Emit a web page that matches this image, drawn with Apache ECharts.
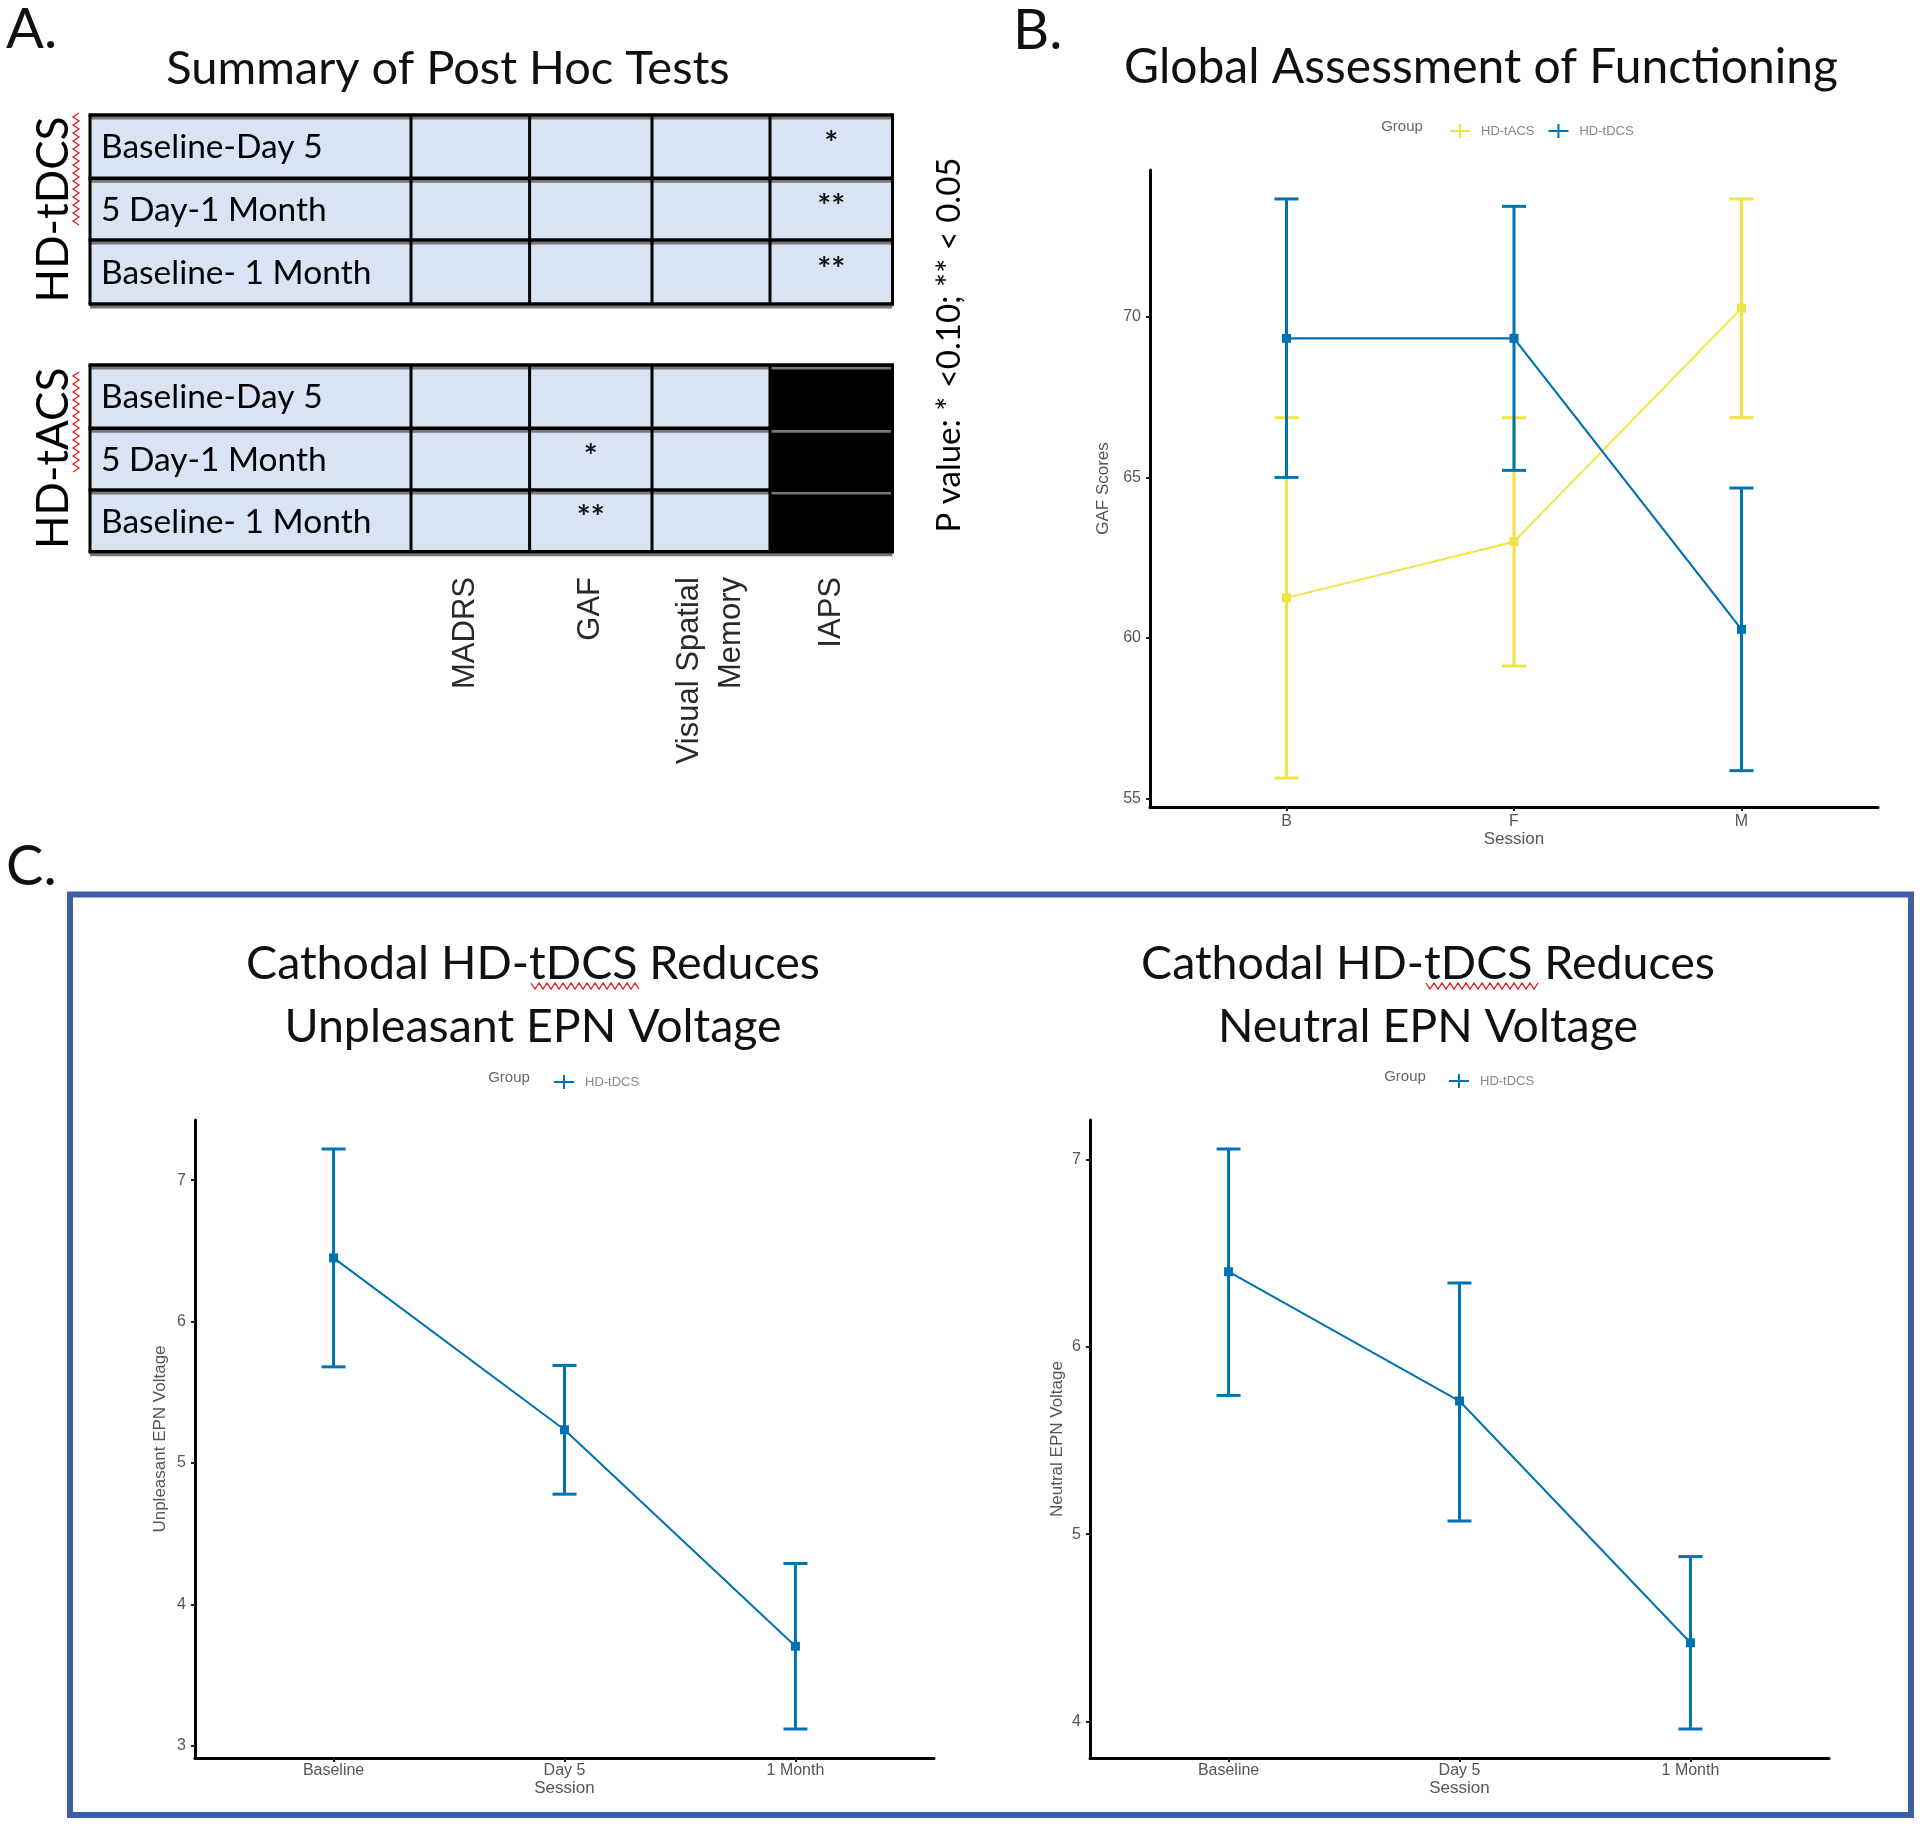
<!DOCTYPE html>
<html><head><meta charset="utf-8">
<script src="https://cdn.jsdelivr.net/npm/echarts@6/dist/echarts.min.js"></script>
<style>html,body{margin:0;padding:0;background:#fff}#c{width:1920px;height:1826px}</style>
</head><body><div id="c"></div>
<script>
// ---------- Panel A data ----------
const tableRowLabels = ['Baseline-Day 5', '5 Day-1 Month', 'Baseline- 1 Month'];
const tableColLabels = ['MADRS', 'GAF', 'Visual Spatial\nMemory', 'IAPS'];
// '' = no effect, '*' p<0.10, '**' p<0.05, null = not tested (black)
const tdcsSig = [['', '', '', '*'], ['', '', '', '**'], ['', '', '', '**']];
const tacsSig = [['', '', '', null], ['', '*', '', null], ['', '**', '', null]];
const groupLabels = ['HD-tDCS', 'HD-tACS'];
const pValueNote = 'P value: * <0.10; ** < 0.05';

// ---------- Panel B data (GAF) ----------
const gafSessions = ['B', 'F', 'M'];
const gafTicks = [55, 60, 65, 70];
const tacsGafMean = [61.25, 63.0, 70.27];
const tacsGafLow = [55.64, 59.13, 66.86];
const tacsGafHigh = [66.86, 66.86, 73.67];
const tdcsGafMean = [69.33, 69.33, 60.27];
const tdcsGafLow = [65.0, 65.22, 55.87];
const tdcsGafHigh = [73.67, 73.44, 64.67];

// ---------- Panel C data (EPN) ----------
const epnSessions = ['Baseline', 'Day 5', '1 Month'];
const unpTicks = [3, 4, 5, 6, 7];
const unpMean = [6.45, 5.235, 3.705];
const unpLow = [5.68, 4.78, 3.12];
const unpHigh = [7.22, 5.69, 4.29];
const neuTicks = [4, 5, 6, 7];
const neuMean = [6.40, 5.71, 4.42];
const neuLow = [5.74, 5.07, 3.96];
const neuHigh = [7.055, 6.34, 4.88];

// ---------- styling ----------
const BLUE = '#0072B2', YEL = '#F0E442';
const FONT = 'Lato, "Open Sans", sans-serif';
const AXFONT = '"Liberation Sans", Arial, sans-serif';
const AXCOL = '#555';

function expand(lows, highs) {
  const lo = Math.min(...lows), hi = Math.max(...highs), p = (hi - lo) * 0.05;
  return [lo - p, hi + p];
}

const chart = echarts.init(document.getElementById('c'), null, {renderer: 'canvas', width: 1920, height: 1826});

function xAxisCfg(gi, cats, labelMargin, nameGap) {
  return {
    type: 'value', gridIndex: gi, min: 0.4, max: 3.6,
    name: 'Session', nameLocation: 'middle', nameGap: nameGap,
    nameTextStyle: {color: AXCOL, fontSize: 17, fontFamily: AXFONT},
    axisLine: {show: true, onZero: false, lineStyle: {color: '#000', width: 3}},
    axisTick: {show: true, customValues: [1, 2, 3], length: 4, lineStyle: {color: '#222', width: 2}},
    axisLabel: {customValues: [1, 2, 3], formatter: v => cats[Math.round(v) - 1], color: AXCOL,
      fontSize: 16, fontFamily: AXFONT, margin: labelMargin},
    splitLine: {show: false}
  };
}
function yAxisCfg(gi, ticks, range, name, nameGap) {
  return {
    type: 'value', gridIndex: gi, min: range[0], max: range[1],
    name: name, nameLocation: 'middle', nameGap: nameGap, nameRotate: 90,
    nameTextStyle: {color: AXCOL, fontSize: 17, fontFamily: AXFONT},
    axisLine: {show: true, onZero: false, lineStyle: {color: '#000', width: 3}},
    axisTick: {show: true, customValues: ticks, length: 4, lineStyle: {color: '#222', width: 2}},
    axisLabel: {customValues: ticks, formatter: v => String(Math.round(v)), color: AXCOL,
      fontSize: 16, fontFamily: AXFONT, margin: 9},
    splitLine: {show: false}
  };
}
function lineSeries(name, color, gi, means, w) {
  return {
    type: 'line', name: name, xAxisIndex: gi, yAxisIndex: gi,
    data: means.map((m, i) => [i + 1, m]),
    symbol: 'rect', symbolSize: 9, showSymbol: true,
    itemStyle: {color: color}, lineStyle: {color: color, width: w},
    animation: false, z: 3
  };
}
function errSeries(id, color, gi, lows, highs) {
  return {
    type: 'custom', name: id, xAxisIndex: gi, yAxisIndex: gi,
    data: lows.map((l, i) => [i + 1, l, highs[i]]),
    encode: {x: 0, y: [1, 2]}, animation: false, z: 3,
    renderItem: (params, api) => {
      const a = api.coord([api.value(0), api.value(1)]);
      const b = api.coord([api.value(0), api.value(2)]);
      const w = 12, st = {stroke: color, lineWidth: 3};
      return {type: 'group', children: [
        {type: 'line', shape: {x1: a[0], y1: a[1], x2: b[0], y2: b[1]}, style: st},
        {type: 'line', shape: {x1: a[0] - w, y1: a[1], x2: a[0] + w, y2: a[1]}, style: st},
        {type: 'line', shape: {x1: b[0] - w, y1: b[1], x2: b[0] + w, y2: b[1]}, style: st}
      ]};
    }
  };
}

// ---------- graphic (panel A, labels, frame) ----------
const G = [];
function txt(text, x, y, size, opts) {
  opts = opts || {};
  G.push({type: 'text', x: x, y: y, rotation: opts.rot || 0, z: 10,
    style: {text: text, fontSize: size, fontFamily: opts.font || FONT, fontWeight: opts.weight || 'normal',
      fill: opts.fill || '#111', align: opts.align || 'center', verticalAlign: opts.valign || 'middle',
      lineHeight: opts.lh || undefined}});
}
function squiggle(x1, y1, x2, y2, amp, step) {
  const pts = [];
  const len = Math.hypot(x2 - x1, y2 - y1), n = Math.round(len / step);
  const ux = (x2 - x1) / len, uy = (y2 - y1) / len;
  for (let i = 0; i <= n; i++) {
    const s = (i % 2 ? amp : -amp);
    pts.push([x1 + ux * step * i - uy * s, y1 + uy * step * i + ux * s]);
  }
  G.push({type: 'polyline', shape: {points: pts}, style: {stroke: '#E02020', lineWidth: 1.3, fill: null}, z: 10});
}

// panel letters and titles
txt('A.', 6, 30, 56, {align: 'left'});
txt('B.', 1013, 31, 56, {align: 'left'});
txt('C.', 6, 867, 56, {align: 'left'});
txt('Summary of Post Hoc Tests', 448, 69, 47);
txt('Global Assessment of Functioning', 1481, 68, 48);
txt('Cathodal HD-tDCS Reduces\nUnpleasant EPN Voltage', 533, 995, 46.5, {lh: 63});
txt('Cathodal HD-tDCS Reduces\nNeutral EPN Voltage', 1428, 995, 46.5, {lh: 63});
squiggle(531, 986, 640, 986, 3, 4);
squiggle(1426, 986, 1537, 986, 3, 4);

// tables
const colX = [90, 411, 529.6, 652, 770, 892.5];
const tableRowsY = [[115, 178.3, 240, 304], [365, 428.3, 490, 551.7]];
const sigSets = [tdcsSig, tacsSig];
tableRowsY.forEach((ry, t) => {
  const sig = sigSets[t];
  for (let r = 0; r < 3; r++) {
    for (let c = 0; c < 5; c++) {
      const black = c > 0 && sig[r][c - 1] === null;
      G.push({type: 'rect', shape: {x: colX[c], y: ry[r], width: colX[c + 1] - colX[c], height: ry[r + 1] - ry[r]},
        style: {fill: black ? '#000' : '#DAE3F3'}, z: 5});
      if (c > 0 && sig[r][c - 1]) {
        txt(sig[r][c - 1], (colX[c] + colX[c + 1]) / 2, (ry[r] + ry[r + 1]) / 2 - 2, 33, {weight: 'bold'});
      }
    }
    txt(tableRowLabels[r], 101, (ry[r] + ry[r + 1]) / 2 + 1, 33.5, {align: 'left', fill: '#000'});
  }
  ry.forEach(y => {
    G.push({type: 'line', shape: {x1: colX[0], y1: y + 3, x2: colX[5], y2: y + 3}, style: {stroke: '#777', lineWidth: 3}, z: 6});
    G.push({type: 'line', shape: {x1: colX[0] - 1.5, y1: y, x2: colX[5] + 1.5, y2: y}, style: {stroke: '#000', lineWidth: 3.5}, z: 7});
  });
  colX.forEach(x => {
    G.push({type: 'line', shape: {x1: x, y1: ry[0], x2: x, y2: ry[3]}, style: {stroke: '#000', lineWidth: 3}, z: 7});
  });
  const cy = (ry[0] + ry[3]) / 2;
  txt(groupLabels[t], 54, cy, 44, {rot: Math.PI / 2, fill: '#000'});
});
squiggle(76, 113, 76, 223, 3, 4);
squiggle(76, 372, 76, 470, 3, 4);

// column labels (rotated)
const colLabelX = [465, 590.6, 710, 831];
tableColLabels.forEach((s, i) => {
  txt(s, colLabelX[i], 577, 31, {rot: Math.PI / 2, align: 'right', font: AXFONT, fill: '#2a2a2a', lh: 42});
});
txt(pValueNote, 949, 345, 33, {rot: Math.PI / 2, fill: '#000'});

// legend "Group" titles
txt('Group', 1402, 127, 15, {font: AXFONT, fill: '#666'});
txt('Group', 509, 1078, 15, {font: AXFONT, fill: '#666'});
txt('Group', 1405, 1077, 15, {font: AXFONT, fill: '#666'});

// panel C frame
G.push({type: 'rect', shape: {x: 70, y: 894.5, width: 1841, height: 920.5},
  style: {fill: null, stroke: '#3E5FA6', lineWidth: 6}, z: 10});

const plusIcon = 'path://M0,6h9v-6h2v6h9v2h-9v6h-2v-6h-9z';
function legendCfg(names, left, top) {
  return {data: names, left: left, top: top, orient: 'horizontal', icon: plusIcon,
    itemWidth: 20, itemHeight: 14, itemGap: 14, selectedMode: false,
    textStyle: {color: '#888', fontSize: 13, fontFamily: AXFONT, padding: [0, 0, 0, 6]}};
}

const rangeB = expand(tacsGafLow.concat(tdcsGafLow), tacsGafHigh.concat(tdcsGafHigh));
const rangeU = expand(unpLow, unpHigh);
const rangeN = expand(neuLow, neuHigh);

chart.setOption({
  backgroundColor: '#fff',
  animation: false,
  grid: [
    {left: 1150, top: 170, width: 728, height: 637},
    {left: 195, top: 1120, width: 739, height: 638},
    {left: 1090, top: 1120, width: 739, height: 638}
  ],
  xAxis: [xAxisCfg(0, gafSessions, 7, 24), xAxisCfg(1, epnSessions, 5, 22), xAxisCfg(2, epnSessions, 5, 22)],
  yAxis: [yAxisCfg(0, gafTicks, rangeB, 'GAF Scores', 38), yAxisCfg(1, unpTicks, rangeU, 'Unpleasant EPN Voltage', 26),
          yAxisCfg(2, neuTicks, rangeN, 'Neutral EPN Voltage', 24)],
  legend: [legendCfg(['HD-tACS', 'HD-tDCS'], 1445, 119), legendCfg(['HD-tDCS'], 549, 1070), legendCfg(['HD-tDCS'], 1444, 1069)],
  series: [
    errSeries('errTacsGaf', YEL, 0, tacsGafLow, tacsGafHigh),
    lineSeries('HD-tACS', YEL, 0, tacsGafMean, 2),
    errSeries('errTdcsGaf', BLUE, 0, tdcsGafLow, tdcsGafHigh),
    lineSeries('HD-tDCS', BLUE, 0, tdcsGafMean, 2.2),
    errSeries('errUnp', BLUE, 1, unpLow, unpHigh),
    lineSeries('HD-tDCS', BLUE, 1, unpMean, 2),
    errSeries('errNeu', BLUE, 2, neuLow, neuHigh),
    lineSeries('HD-tDCS', BLUE, 2, neuMean, 2)
  ],
  graphic: G
});
</script></body></html>
